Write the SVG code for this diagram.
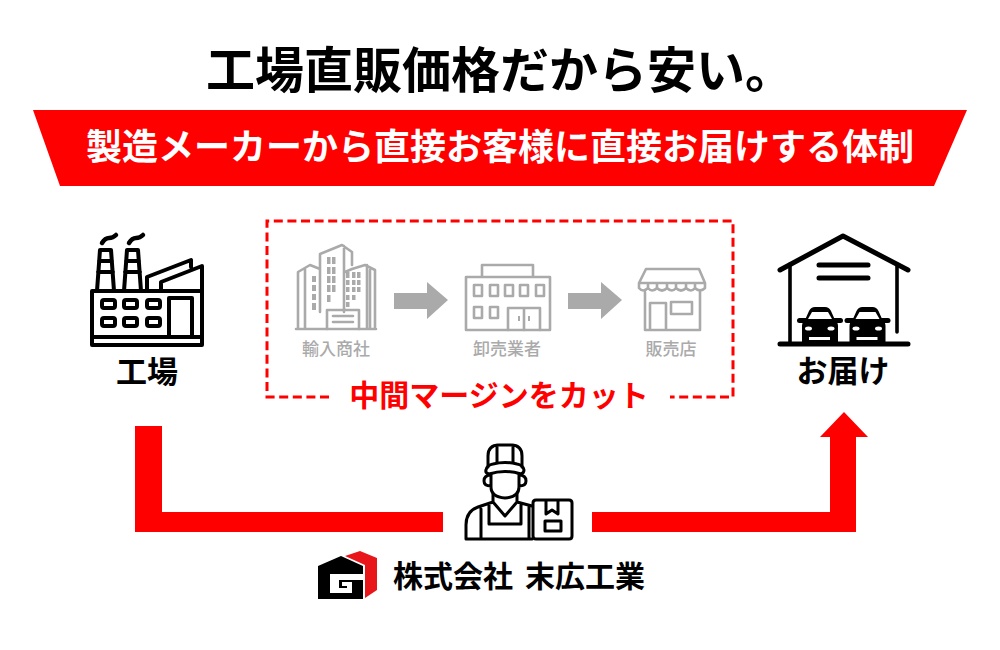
<svg xmlns="http://www.w3.org/2000/svg" width="1000" height="650" viewBox="0 0 1000 650">
<style>
text{font-family:"Noto Sans CJK JP","Noto Sans",sans-serif;font-weight:700;text-anchor:middle}
.k{fill:none;stroke:#000;stroke-width:4;stroke-linecap:round;stroke-linejoin:round}
.g{fill:none;stroke:#aaa;stroke-width:2.6;stroke-linecap:round;stroke-linejoin:round}
.gl{font-size:17px;fill:#aaa;font-weight:500}
.red{fill:#f00}
</style>
<defs>
<g id="car">
<path d="M802,343V326Q802,322 805,320L809,311Q811,307 815,307H825Q829,307 831,311L835,320Q838,322 838,326V343Z" fill="#000"/>
<rect x="797" y="318" width="46" height="5" rx="2.500" fill="#000"/>
<polygon points="812,312 828,312 832,319 808,319" fill="#fff"/>
<ellipse cx="808.500" cy="328.500" rx="3.500" ry="2" fill="#fff"/>
<ellipse cx="831" cy="328.500" rx="3.500" ry="2" fill="#fff"/>
<rect x="809" y="337" width="21" height="3" fill="#fff"/>
</g>
</defs>
<rect width="1000" height="650" fill="#fff"/>
<text id="title" x="500" y="88" font-size="49" fill="#000">工場直販価格だから安い。</text>
<g id="banner"><polygon points="33,110 967,110 934,186 60,186" fill="#f00"/><text x="500" y="160" font-size="36" fill="#fff">製造メーカーから直接お客様に直接お届けする体制</text></g>
<g id="factory">
<path class="k" d="M92,345V291H202V266L161,282V291M147,291V277L191,260V267M92,345H202V291M92,337H202"/>
<path class="k" d="M97,291L100,250H111L114,291M99,261H112M98,272H113"/>
<path class="k" d="M124,291L127,250H138L141,291M126,261H139M125,272H140"/>
<path d="M102,243Q105,238 109,238T116,235M129,243Q132,238 136,238T143,235" fill="none" stroke="#000" stroke-width="4.500" stroke-linecap="round"/>
<g class="k"><rect x="102" y="300" width="13" height="8" rx="2"/><rect x="124" y="300" width="13" height="8" rx="2"/><rect x="147" y="300" width="13" height="8" rx="2"/><rect x="102" y="318" width="13" height="8" rx="2"/><rect x="124" y="318" width="13" height="8" rx="2"/><rect x="147" y="318" width="13" height="8" rx="2"/></g>
<path class="k" d="M169,337V298H192V337"/>
<text x="147" y="383" font-size="31" fill="#000">工場</text>
</g>
<g id="importer">
<path class="g" d="M296,329H376M298,329V272L310,265L320,269M305,329V268M320,269V254L342,245L352,252V265M344,246V312M320,254V312M352,269L365,265L375,270V329M345,272L352,269M367,265V329M370,329V270"/>
<path class="g" d="M327,329V310H359V329M333,316H353M333,322H353"/>
<path d="M312,276h4v6h-4zM312,285h4v6h-4zM312,294h4v6h-4zM312,303h4v7h-4zM327,257h3.500v7h-3.500zM332,257h3.500v7h-3.500zM327,267h3.500v7h-3.500zM332,267h3.500v7h-3.500zM327,276h3.500v7h-3.500zM332,276h3.500v7h-3.500zM327,285h3.500v7h-3.500zM332,285h3.500v7h-3.500zM327,295h3.500v7h-3.500zM346,272h3.500v6h-3.500zM352,272h3.500v6h-3.500zM357,272h3.500v6h-3.500zM346,280h3.500v5h-3.500zM352,280h3.500v5h-3.500zM357,280h3.500v5h-3.500zM346,287h3.500v5h-3.500zM352,287h3.500v5h-3.500zM357,287h3.500v5h-3.500zM346,295h3.500v5h-3.500zM352,295h3.500v5h-3.500zM346,302h3.500v5h-3.500z" fill="#aaa"/>
<text class="gl" x="336" y="355">輸入商社</text>
</g>
<polygon id="arrow1" points="394,293 427,293 427,282 448,300 427,319 427,309 394,309" fill="#aaa"/>
<g id="wholesaler">
<path class="g" d="M466,330V277H550V330ZM482,277V265H533V277"/>
<path class="g" d="M474,285h8v11h-8zM490,285h8v11h-8zM505,285h8v11h-8zM520,285h8v11h-8zM536,285h8v11h-8zM474,307h8v11h-8zM490,307h8v11h-8zM508,330V308H540V330M524,308V330"/>
<path d="M519,316v5M529,316v5" stroke="#aaa" stroke-width="2"/>
<text class="gl" x="507" y="355">卸売業者</text>
</g>
<polygon id="arrow2" points="568,293 601,293 601,282 622,300 601,319 601,309 568,309" fill="#aaa"/>
<g id="shop">
<path class="g" d="M639,283L646,269H699L705,283ZM639,283V288Q643,293 648,288V283M648,288Q652,293 657,288V283M657,288Q662,293 667,288V283M667,288Q672,293 676,288V283M676,288Q681,293 686,288V283M686,288Q691,293 695,288V283M695,288Q700,293 705,288V283"/>
<path class="g" d="M645,292V330H700V292M650,330V303H666V330M671,302H692V314H671Z"/>
<text class="gl" x="671" y="355">販売店</text>
</g>
<g id="cut">
<path d="M329,397H267V221H733V397H670" fill="none" stroke="#f00" stroke-width="3" stroke-dasharray="9 4.600"/>
<text x="499" y="406" font-size="30" fill="#f00">中間マージンをカット</text>
</g>
<g id="delivery">
<path d="M780,270L843,236L908,270" fill="none" stroke="#000" stroke-width="5" stroke-linecap="round" stroke-linejoin="round"/>
<path d="M790,264V344M897,264V332" fill="none" stroke="#000" stroke-width="3.600" stroke-linecap="round"/>
<path d="M819,265H868M819,278H868M780,344H908" fill="none" stroke="#000" stroke-width="5" stroke-linecap="round"/>
<use href="#car"/>
<use href="#car" x="47.500"/>
<text x="843" y="382" font-size="31" fill="#000">お届け</text>
</g>
<g id="connectors">
<path class="red" d="M135,426H162V512H443V532H135Z"/>
<path class="red" d="M592,512H830V437H820L844,412L868,437H856V532H592Z"/>
</g>
<g id="worker" fill="none" stroke="#000" stroke-width="3" stroke-linecap="round" stroke-linejoin="round">
<path d="M488,467V456Q488,445 499,445H511Q522,445 522,456V467M497,445V462M513,445V462"/>
<path d="M486,470Q487,465 493,464Q505,461 517,464Q523,465 524,470Q524,473 521,474Q505,469 489,474Q485,473 486,470Z"/>
<path d="M491,474V487Q491,497 505,498Q519,497 519,487V474M491,475Q484,475 484,481Q484,486 491,486M519,475Q526,475 526,481Q526,486 519,486"/>
<path d="M493,494V502L505,516L517,502V494M489,505V524H521V505M493,502L478,507Q466,511 466,525V539H532M481,509V539M517,502L532,506M529,507V539"/>
<path d="M536,500H569Q572,500 572,503V536Q572,539 569,539H536Q533,539 533,536V503Q533,500 536,500ZM546,500V514L552,510L558,514V500M545,521H561V531H545Z"/>
</g>
<g id="company">
<polygon points="318,566 341,556 363,566 363,599 318,599" fill="#000"/>
<polygon points="345,556 360,551 377,558 377,590 365,598 365,565" fill="#e8151b"/>
<path d="M330,574H363V580H339V588H347V582H352V593H330Z M342,582H352V586H342Z" fill="#fff"/>
<text x="519" y="587" font-size="30" fill="#000" word-spacing="5">株式会社 末広工業</text>
</g>
</svg>
